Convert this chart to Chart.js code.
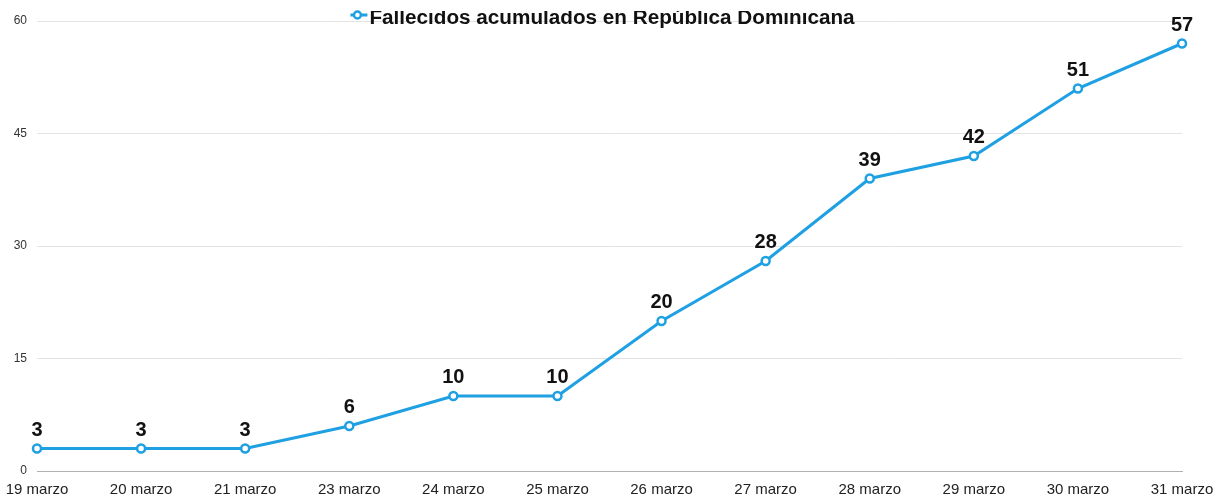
<!DOCTYPE html>
<html>
<head>
<meta charset="utf-8">
<script src="https://cdn.jsdelivr.net/npm/chart.js@4/dist/chart.umd.min.js"></script>
<style>
  html, body { margin: 0; padding: 0; background: #fff; }
  #wrap { width: 1225px; height: 499px; }
</style>
</head>
<body>
<div id="wrap"><canvas id="deaths"></canvas></div>
<script>
var days = ['19 marzo', '20 marzo', '21 marzo', '23 marzo', '24 marzo', '25 marzo', '26 marzo', '27 marzo', '28 marzo', '29 marzo', '30 marzo', '31 marzo'];
var deaths = [3, 3, 3, 6, 10, 10, 20, 28, 39, 42, 51, 57];
var yTicks = [0, 15, 30, 45, 60];
var seriesName = 'Fallecidos acumulados en República Dominicana';
var blue = 'rgb(30, 160, 226)';

// numbers above each point
var pointLabels = {
    id: 'pointLabels',
    afterDatasetsDraw: function(chart){
        var ctx = chart.ctx;
        var meta = chart.getDatasetMeta(0);
        ctx.save();
        ctx.font = 'bold 20px "Liberation Sans", Arial, sans-serif';
        ctx.fillStyle = '#111';
        ctx.textAlign = 'center';
        ctx.textBaseline = 'alphabetic';
        meta.data.forEach(function(pt, i){
            ctx.fillText(deaths[i], pt.x, pt.y - 13);
        });
        ctx.restore();
    }
};

// legend sits over the top of the plot, cut at the top edge
var topLegend = {
    id: 'topLegend',
    afterDraw: function(chart){
        var ctx = chart.ctx;
        ctx.save();
        ctx.font = 'bold 20.7px "Liberation Sans", Arial, sans-serif';
        var w = ctx.measureText(seriesName).width;
        var cx = 612;
        var tx = cx - w / 2;
        ctx.fillStyle = '#111';
        ctx.textBaseline = 'alphabetic';
        ctx.fillText(seriesName, tx, 24);
        // clip top of text
        ctx.fillStyle = '#fff';
        ctx.fillRect(tx - 30, 0, w + 40, 11);
        // marker
        ctx.strokeStyle = blue;
        ctx.lineWidth = 3;
        ctx.beginPath();
        ctx.moveTo(tx - 19, 15);
        ctx.lineTo(tx - 2, 15);
        ctx.stroke();
        ctx.fillStyle = '#fff';
        ctx.lineWidth = 2.5;
        ctx.beginPath();
        ctx.arc(tx - 12, 15, 3.5, 0, Math.PI * 2);
        ctx.fill();
        ctx.stroke();
        ctx.restore();
    }
};

new Chart(document.getElementById('deaths'), {
    type: 'line',
    data: {
        labels: days,
        datasets: [{
            label: seriesName,
            data: deaths,
            borderColor: blue,
            backgroundColor: '#fff',
            borderWidth: 3,
            pointRadius: 4,
            pointBorderWidth: 2.5,
            pointBackgroundColor: '#fff',
            pointBorderColor: blue,
            tension: 0
        }]
    },
    options: {
        responsive: true,
        maintainAspectRatio: false,
        animation: false,
        layout: { padding: { top: 21, right: 43, left: 0, bottom: 0 } },
        plugins: {
            legend: { display: false },
            tooltip: { enabled: false }
        },
        scales: {
            x: {
                offset: false,
                grid: { display: false, drawTicks: false },
                border: { display: true, color: '#b0b0b0', width: 1 },
                ticks: {
                    padding: 10,
                    color: '#222',
                    maxRotation: 0,
                    autoSkip: false,
                    font: { family: '"Liberation Sans", Arial, sans-serif', size: 15 }
                },
                afterFit: function(s){
                    s.height = 28;
                    s.paddingLeft = 0;
                    s.paddingRight = 0;
                }
            },
            y: {
                min: 0,
                max: 60,
                afterBuildTicks: function(s){
                    s.ticks = yTicks.map(function(v){ return { value: v }; });
                },
                grid: {
                    drawTicks: false,
                    color: function(c){ return c.tick.value === 0 ? '#b0b0b0' : '#e3e3e3'; },
                    lineWidth: 1
                },
                border: { display: false },
                ticks: {
                    padding: 10,
                    color: '#333',
                    font: { family: '"Liberation Sans", Arial, sans-serif', size: 12 }
                },
                afterFit: function(s){ s.width = 37; }
            }
        }
    },
    plugins: [pointLabels, topLegend]
});
</script>
</body>
</html>
